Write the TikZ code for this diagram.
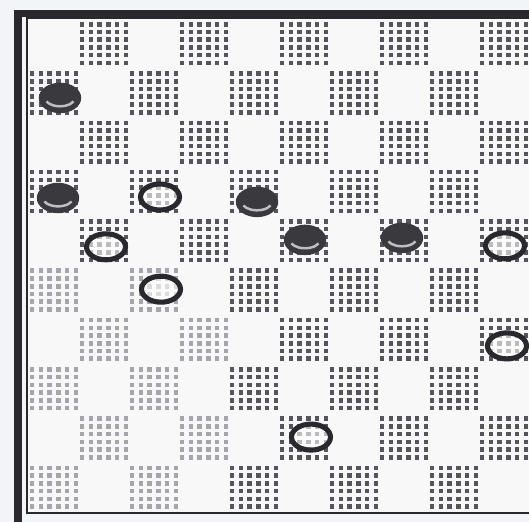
\documentclass[tikz,border=0pt]{standalone}
\usepackage{xcolor}
\usepackage{tikz}
\usetikzlibrary{shapes.geometric,calc}
\definecolor{mypaper}{RGB}{243,244,247}
\definecolor{myboard}{RGB}{248,248,249}
\definecolor{myink}{RGB}{40,40,45}
\definecolor{mydot}{RGB}{85,85,92}
\definecolor{myfade}{RGB}{165,165,172}
\definecolor{myman}{RGB}{58,58,62}
\definecolor{myrim}{RGB}{190,190,195}

\begin{document}
\begin{tikzpicture}[x=1cm, y=-0.986cm,
  sqdots/.style={line width=2.5pt, dash pattern=on 2.6pt off 1.8pt},
  blackman/.style={ellipse, fill=myman, draw=myman, line width=0.8pt,
                   minimum width=0.82cm, minimum height=0.58cm, inner sep=0pt},
  whiteman/.style={ellipse, draw=myink, line width=2.9pt, fill=white,
                   fill opacity=0.6, draw opacity=1,
                   minimum width=0.78cm, minimum height=0.52cm, inner sep=0pt}]
  \useasboundingbox (-0.58,-0.406) rectangle (10.0,10.18);
  \clip (-0.58,-0.406) rectangle (10.0,10.18);
  \fill[mypaper] (-0.58,-0.406) rectangle (10.0,10.18);
  % Frame
  \fill[myboard] (-0.04,-0.04) rectangle (10.04,10.0);
  \draw[myink, line width=4.2pt] (-0.22,-0.13) rectangle (10.4,10.6);
  \draw[myink, line width=0.7pt] (-0.04,-0.04) rectangle (10.04,10.0);
  % Dark squares
  \foreach \r in {0,...,9}{
    \foreach \c in {0,...,9}{
      \pgfmathtruncatemacro{\odd}{mod(\r+\c,2)}
      \pgfmathtruncatemacro{\faded}{and(\c<4,\r>4)}
      \ifnum\odd=1
        \ifnum\faded=1 \def\dotcol{myfade}\else\def\dotcol{mydot}\fi
        \foreach \k in {0,...,5}{
          \draw[sqdots, \dotcol] (\c+0.06+\k*0.176, \r+0.04) -- ++(0, 0.92);
        }
      \fi
    }
  }
  % Black men
  \foreach \x/\y [count=\i] in {0.62/1.58, 0.58/3.61, 4.56/3.69, 5.52/4.46, 7.46/4.42}{
    \node[blackman] (black\i) at (\x,\y) {};
    \draw[myrim, line width=1.4pt] (black\i.center) ++(25:0.3 and 0.17)
      arc[start angle=25, end angle=155, x radius=0.3, y radius=0.17];
  }
  % White men
  \foreach \x/\y [count=\i] in {2.62/3.59, 1.54/4.60, 2.64/5.46, 9.52/4.58, 9.56/6.61, 5.64/8.46}{
    \node[whiteman] (white\i) at (\x,\y) {};
  }
\end{tikzpicture}
\end{document}
